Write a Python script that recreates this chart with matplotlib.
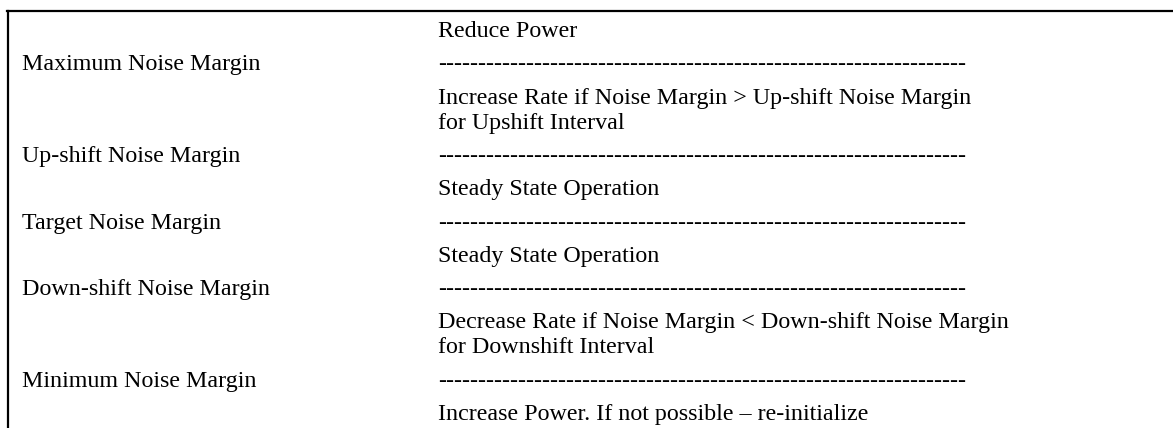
# Noise margin thresholds and the rate-adaptation action taken in each band
import matplotlib
matplotlib.use("Agg")
import matplotlib.pyplot as plt

thresholds = ["Maximum Noise Margin", "Up-shift Noise Margin", "Target Noise Margin",
              "Down-shift Noise Margin", "Minimum Noise Margin"]
actions = [
    "Reduce Power",
    "Increase Rate if Noise Margin > Up-shift Noise Margin\nfor Upshift Interval",
    "Steady State Operation",
    "Steady State Operation",
    "Decrease Rate if Noise Margin < Down-shift Noise Margin\nfor Downshift Interval",
    "Increase Power. If not possible \u2013 re-initialize",
]

W, H = 1173, 428
plt.rcParams['font.family'] = ['Liberation Serif', 'DejaVu Serif']
fs = 17.3
line_h = 25      # spacing of lines inside one paragraph (px)
para_h = 33.3    # spacing between paragraphs (px)
left_x, right_x = 22, 438
dashes = "-" * 66

fig = plt.figure(figsize=(W / 100, H / 100), dpi=100)
ax = fig.add_axes([0, 0, 1, 1])
ax.set_xlim(0, W)
ax.set_ylim(H, 0)
ax.axis('off')

# frame: top rule and left rule
ax.axhline(11, xmin=7 / W, xmax=1, color='black', lw=1.6)
ax.axvline(7.5, ymin=0, ymax=1 - 11 / H, color='black', lw=1.6)

y = 37
for i, act in enumerate(actions):
    lines = act.split("\n")
    for k, ln in enumerate(lines):
        ax.text(right_x, y, ln, fontsize=fs, va='baseline', ha='left')
        if k < len(lines) - 1:
            y += line_h
    y += para_h
    if i < len(thresholds):
        ax.text(left_x, y, thresholds[i], fontsize=fs, va='baseline', ha='left')
        ax.text(right_x, y, dashes, fontsize=fs, va='baseline', ha='left')
        y += para_h

fig.savefig("out.png", dpi=100)
